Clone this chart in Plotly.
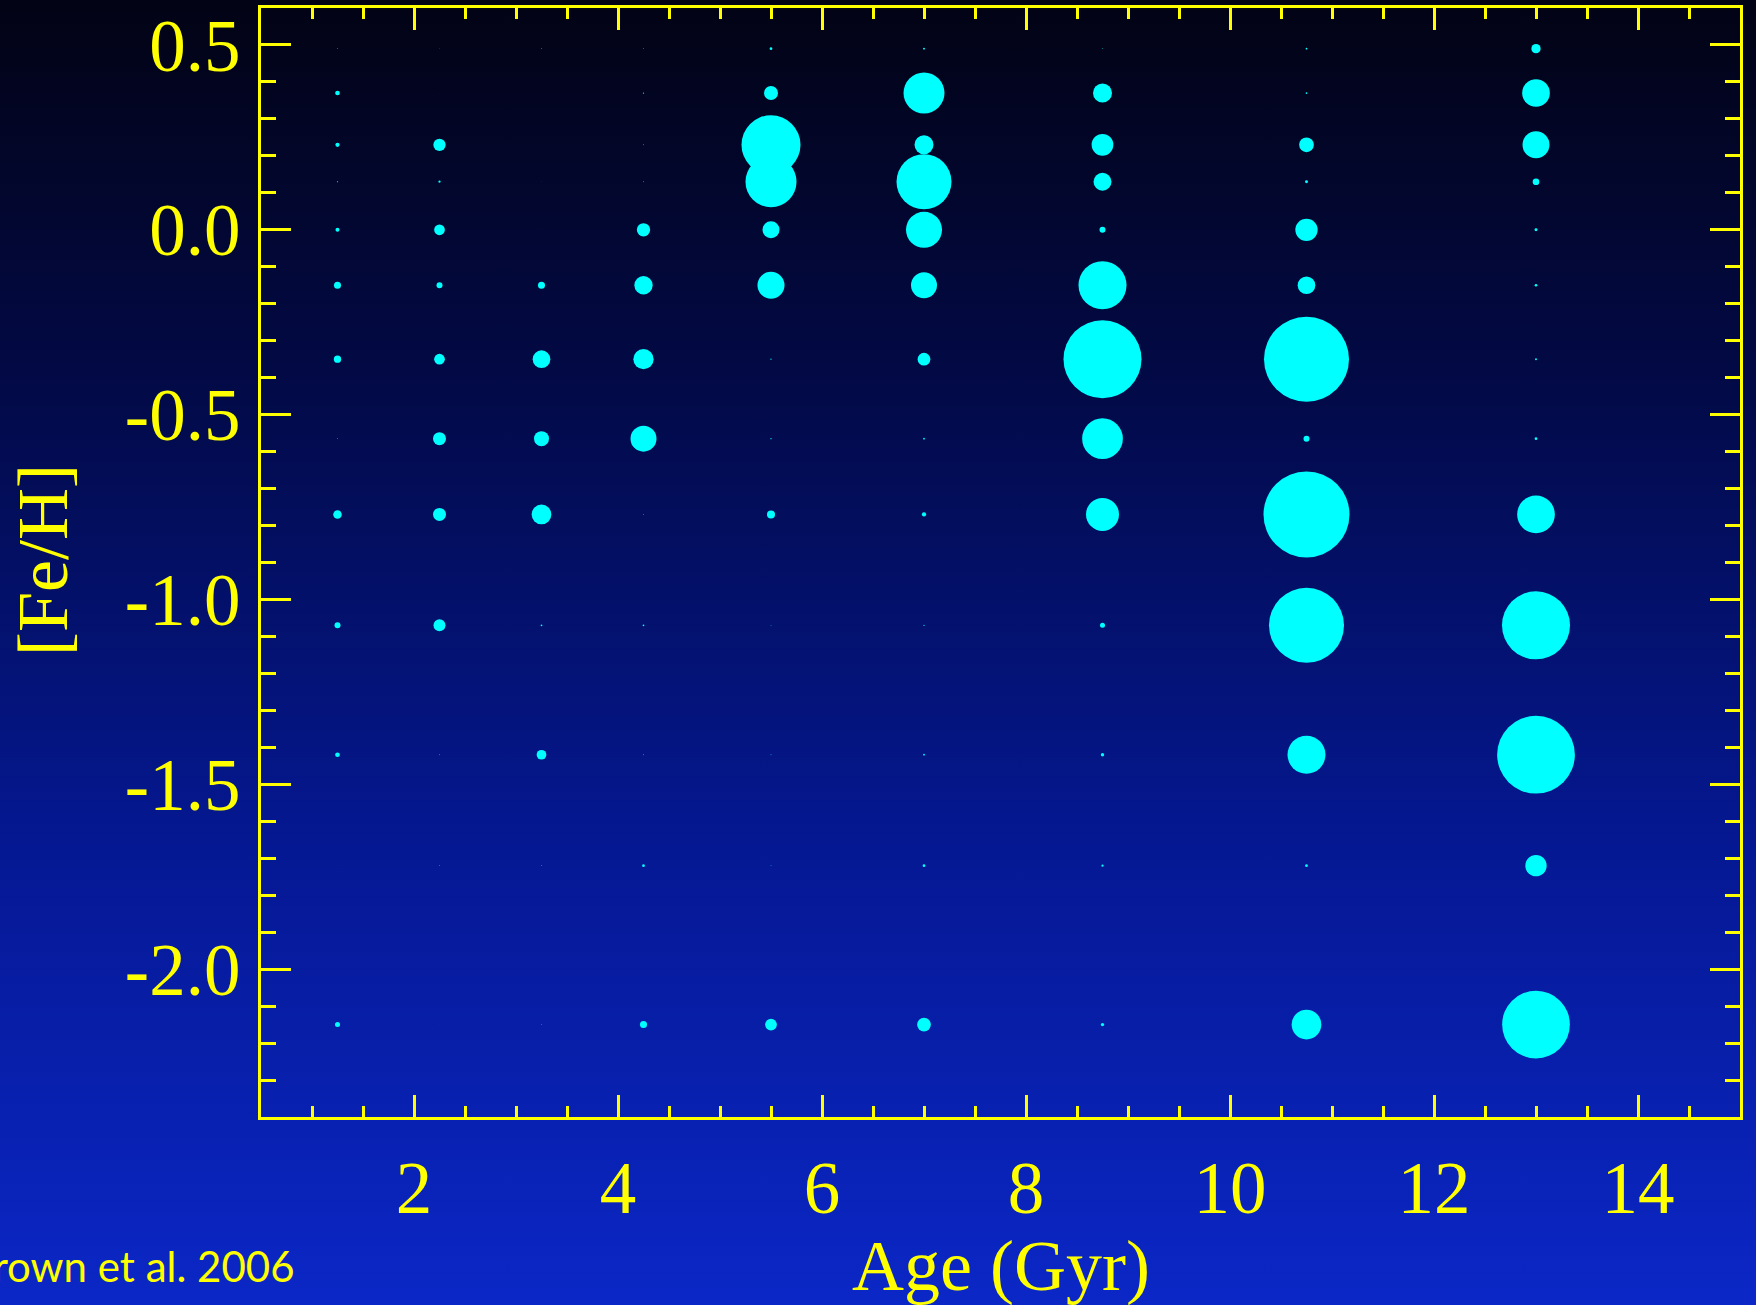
import base64
import numpy as np
import plotly.graph_objects as go

# ---------------- data ----------------
AGES = [1.25, 2.25, 3.25, 4.25, 5.5, 7.0, 8.75, 10.75, 13.0]
FEH = [0.49, 0.37, 0.23, 0.13, 0.00, -0.15, -0.35, -0.565, -0.77, -1.07, -1.42, -1.72, -2.15]

# relative weight (% of total) of each [Fe/H] bin, per age bin (order follows FEH)
W_AGE_1_25 = [0.001, 0.030, 0.025, 0.002, 0.022, 0.067, 0.073, 0.001, 0.099, 0.049, 0.030, 0.0002, 0.034]
W_AGE_2_25 = [0.0003, 0.0001, 0.206, 0.007, 0.156, 0.049, 0.156, 0.230, 0.230, 0.196, 0.001, 0.001, 0.0001]
W_AGE_3_25 = [0.001, 0.0001, 0.0001, 0.0001, 0.0001, 0.067, 0.427, 0.307, 0.529, 0.004, 0.128, 0.001, 0.001]
W_AGE_4_25 = [0.001, 0.002, 0.001, 0.001, 0.241, 0.456, 0.561, 0.921, 0.001, 0.004, 0.001, 0.010, 0.067]
W_AGE_5_5 = [0.010, 0.267, 4.743, 3.544, 0.394, 0.993, 0.002, 0.002, 0.087, 0.001, 0.001, 0.001, 0.187]
W_AGE_7_0 = [0.005, 2.290, 0.492, 4.121, 1.766, 0.921, 0.220, 0.004, 0.025, 0.002, 0.004, 0.010, 0.256]
W_AGE_8_75 = [0.001, 0.492, 0.642, 0.441, 0.049, 3.139, 8.289, 2.257, 1.484, 0.034, 0.015, 0.007, 0.015]
W_AGE_10_75 = [0.004, 0.004, 0.294, 0.012, 0.678, 0.427, 9.843, 0.049, 10.076, 7.663, 1.967, 0.010, 1.202]
W_AGE_13_0 = [0.118, 1.045, 0.993, 0.061, 0.012, 0.010, 0.005, 0.010, 1.936, 6.300, 8.225, 0.618, 6.244]

WEIGHTS = [W_AGE_1_25, W_AGE_2_25, W_AGE_3_25, W_AGE_4_25, W_AGE_5_5,
           W_AGE_7_0, W_AGE_8_75, W_AGE_10_75, W_AGE_13_0]

X_TICKS = [2, 4, 6, 8, 10, 12, 14]
X_TICK_LABELS = ["2", "4", "6", "8", "10", "12", "14"]
Y_TICKS = [0.5, 0.0, -0.5, -1.0, -1.5, -2.0]
Y_TICK_LABELS = ["0.5", "0.0", "-0.5", "-1.0", "-1.5", "-2.0"]

X_TITLE = "Age (Gyr)"
Y_TITLE = "[Fe/H]"
CREDIT = "Brown et al. 2006"

# ---------------- build ----------------
xs, ys, ws = [], [], []
for age, col in zip(AGES, WEIGHTS):
    for feh, w in zip(FEH, col):
        xs.append(age)
        ys.append(feh)
        ws.append(w)
ws = np.array(ws)
sizes = 27.1 * np.sqrt(ws)

W, H = 1756, 1305
ML, MR, MT, MB = 261, 16, 8, 188
PW, PH = W - ML - MR, H - MT - MB

YELLOW = "#FFFF00"
SERIF = "Liberation Serif, Times New Roman, serif"

svg = (
    '<svg xmlns="http://www.w3.org/2000/svg" width="100" height="100" preserveAspectRatio="none">'
    '<defs><linearGradient id="g" x1="0" y1="0" x2="0" y2="1">'
    '<stop offset="0" stop-color="#020314"/>'
    '<stop offset="0.3" stop-color="#020a48"/>'
    '<stop offset="0.65" stop-color="#051893"/>'
    '<stop offset="1" stop-color="#0b27c6"/>'
    '</linearGradient></defs>'
    '<rect x="0" y="0" width="100" height="100" fill="url(#g)"/></svg>'
)
bg_src = "data:image/svg+xml;base64," + base64.b64encode(svg.encode()).decode()

fig = go.Figure()
fig.add_trace(go.Scatter(
    x=xs, y=ys, mode="markers",
    marker=dict(size=sizes, sizemode="diameter", color="#00FFFF",
                line=dict(width=0), opacity=1),
    hoverinfo="x+y", showlegend=False,
))

axis_common = dict(
    showline=True, linecolor=YELLOW, linewidth=3, mirror="ticks",
    ticks="inside", tickcolor=YELLOW, tickwidth=3,
    showgrid=False, zeroline=False, automargin=False,
    tickfont=dict(family=SERIF, size=73, color=YELLOW),
)

fig.update_xaxes(
    **axis_common, range=[0.5, 15], tickmode="array",
    tickvals=X_TICKS, ticktext=X_TICK_LABELS, ticklen=22,
    ticklabelstandoff=5,
    minor=dict(dtick=0.5, tick0=0, ticklen=11, ticks="inside",
               tickcolor=YELLOW, tickwidth=3, showgrid=False),
)
fig.update_yaxes(
    **axis_common, range=[-2.4, 0.6], tickmode="array",
    tickvals=Y_TICKS, ticktext=Y_TICK_LABELS, ticklen=30,
    ticklabelstandoff=3,
    minor=dict(dtick=0.1, tick0=0, ticklen=15, ticks="inside",
               tickcolor=YELLOW, tickwidth=3, showgrid=False),
)

fig.update_layout(
    width=W, height=H,
    margin=dict(l=ML, r=MR, t=MT, b=MB, pad=0),
    paper_bgcolor="#061a9a", plot_bgcolor="rgba(0,0,0,0)",
    images=[dict(source=bg_src, xref="paper", yref="paper",
                 x=-ML / PW, y=1 + MT / PH, sizex=W / PW, sizey=H / PH,
                 xanchor="left", yanchor="top", sizing="stretch",
                 layer="below")],
    annotations=[
        dict(text=X_TITLE, xref="paper", yref="paper", x=0.5, y=(-1266 + 1117) / PH,
             xanchor="center", yanchor="middle", showarrow=False,
             font=dict(family=SERIF, size=72, color=YELLOW)),
        dict(text=Y_TITLE, xref="paper", yref="paper", x=(43 - ML) / PW, y=(1117 - 560) / PH,
             xanchor="center", yanchor="middle", textangle=-90, showarrow=False,
             font=dict(family=SERIF, size=72, color=YELLOW)),
        dict(text=CREDIT, xref="paper", yref="paper", x=(297 - ML) / PW, y=(1117 - 1266) / PH,
             xanchor="right", yanchor="middle", showarrow=False,
             font=dict(family="Lato, Open Sans, sans-serif", size=42, color=YELLOW)),
    ],
)

fig.write_html("out.html")
